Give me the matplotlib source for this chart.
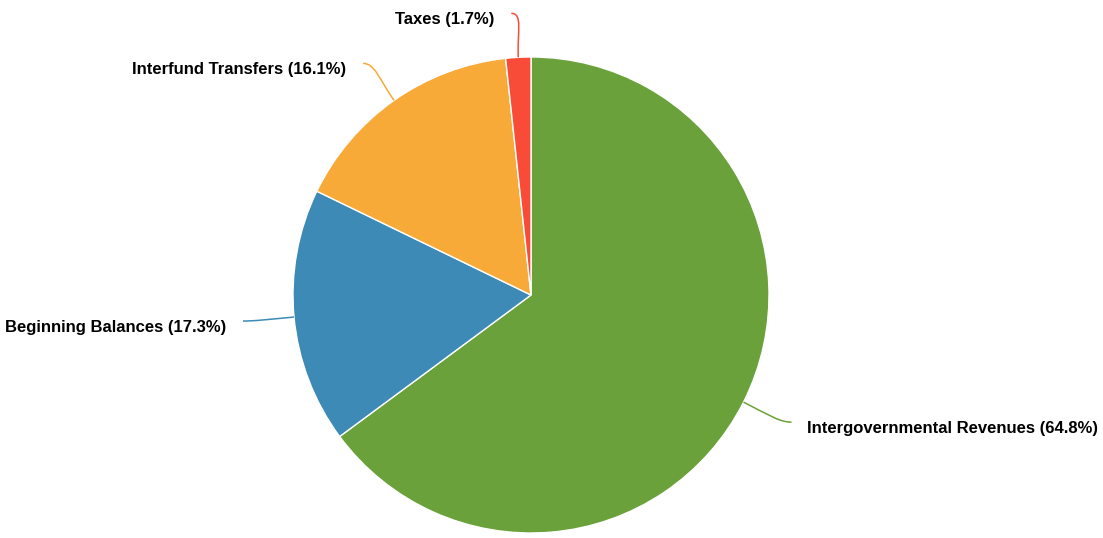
import numpy as np
import matplotlib
matplotlib.use("Agg")
import matplotlib.pyplot as plt
from matplotlib.path import Path
from matplotlib.patches import PathPatch

categories = ["Intergovernmental Revenues", "Beginning Balances", "Interfund Transfers", "Taxes"]
values = [64.8, 17.3, 16.1, 1.7]
colors = ["#6aa13a", "#3d8ab7", "#f7aa37", "#f94c38"]
# label connector end offsets (pixels, relative to slice edge midpoint; x right, y down)
label_offsets = [(48, 20), (-51, 4), (-31, -37), (-7, -44)]

W, H = 1103, 538
fig = plt.figure(figsize=(W / 100, H / 100), dpi=100)
ax = fig.add_axes([0, 0, 1, 1])
ax.set_xlim(0, W)
ax.set_ylim(0, H)
ax.set_aspect("equal")
ax.axis("off")

cx, cy, r = 531, H - 295, 238
wedges, _ = ax.pie(values, colors=colors, startangle=90, counterclock=False,
                   center=(cx, cy), radius=r, normalize=True,
                   wedgeprops=dict(edgecolor="white", linewidth=1))
ax.set_xlim(0, W)
ax.set_ylim(0, H)

for w, name, v, col, (odx, ody) in zip(wedges, categories, values, colors, label_offsets):
    mid = np.deg2rad((w.theta1 + w.theta2) / 2)
    ex, ey = cx + r * np.cos(mid), cy + r * np.sin(mid)
    endx, endy = ex + odx, ey - ody
    side = 1 if odx > 0 else -1
    L = np.hypot(odx, ody)
    p1 = (ex + np.cos(mid) * L * 0.55, ey + np.sin(mid) * L * 0.55)
    p2 = (endx - side * 12, endy)
    path = Path([(ex, ey), p1, p2, (endx, endy)],
                [Path.MOVETO, Path.CURVE4, Path.CURVE4, Path.CURVE4])
    ax.add_patch(PathPatch(path, facecolor="none", edgecolor=col, lw=1.1))
    gap = 15 if side > 0 else 17
    ax.text(endx + side * gap, endy - 6, f"{name} ({v:.1f}%)",
            ha="left" if side > 0 else "right", va="center",
            fontsize=12, fontweight="bold", family="Liberation Sans", color="#000000")

fig.savefig("out.png", dpi=100)
